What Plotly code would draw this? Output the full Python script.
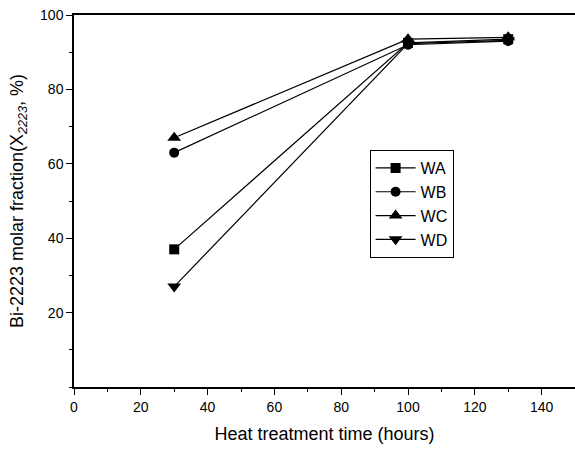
import plotly.graph_objects as go

times = [30, 100, 130]
series = {
    "WA": [37, 92.5, 93.5],
    "WB": [63, 92, 93],
    "WC": [67, 93.5, 94],
    "WD": [27, 92.3, 93.2],
}
symbols = {"WA": "square", "WB": "circle", "WC": "triangle-up", "WD": "triangle-down"}
sizes = {"WA": 10, "WB": 10, "WC": 12, "WD": 12}

fig = go.Figure()
for name, vals in series.items():
    fig.add_trace(go.Scatter(
        x=times, y=vals, name=name, mode="lines+markers",
        line=dict(color="black", width=1.2),
        marker=dict(symbol=symbols[name], size=sizes[name], color="black"),
    ))

fig.update_layout(
    width=575, height=452,
    margin=dict(l=74, r=0, t=15, b=65),
    paper_bgcolor="white", plot_bgcolor="white",
    font=dict(family="Liberation Sans, Arial", color="black", size=14),
    showlegend=True,
    legend=dict(x=0.59, y=0.637, xanchor="left", yanchor="top",
                bordercolor="black", borderwidth=1, bgcolor="white",
                font=dict(size=16), tracegroupgap=0, itemwidth=40),
    xaxis=dict(
        range=[0, 150], tick0=0, dtick=20, ticks="outside", ticklen=6,
        tickcolor="black", showline=True, linecolor="black", linewidth=1.5,
        mirror=True, showgrid=False, zeroline=False,
        minor=dict(dtick=10, ticks="outside", ticklen=3, tickcolor="black"),
        title=dict(text="Heat treatment time (hours)", font=dict(size=18), standoff=14),
        tickfont=dict(size=14),
    ),
    yaxis=dict(
        range=[0, 100], tickvals=[20, 40, 60, 80, 100], ticks="outside", ticklen=6,
        tickcolor="black", showline=True, linecolor="black", linewidth=1.5,
        showgrid=False, zeroline=False,
        minor=dict(dtick=10, ticks="outside", ticklen=3, tickcolor="black"),
        title=dict(text="Bi-2223 molar fraction(X<sub><i>2223</i></sub>, %)", font=dict(size=18), standoff=12),
        tickfont=dict(size=14),
    ),
)

fig.write_html("out.html")
